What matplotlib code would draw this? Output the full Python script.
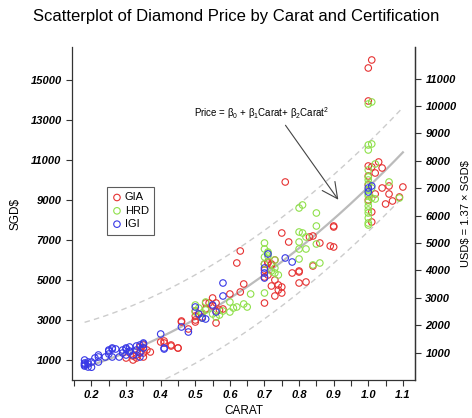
import numpy as np
import matplotlib
matplotlib.use("Agg")
import matplotlib.pyplot as plt
from matplotlib.ticker import MultipleLocator

plt.rcParams['font.family'] = ['Liberation Sans', 'DejaVu Sans']
plt.rcParams['mathtext.fontset'] = 'custom'
plt.rcParams['mathtext.rm'] = 'Liberation Sans'
plt.rcParams['mathtext.it'] = 'Liberation Sans'

# Diamond prices (SGD) by carat, grouped by certification body
gia_carat = [0.30, 0.32, 0.32, 0.33, 0.34, 0.35, 0.35, 0.36, 0.37, 0.34, 0.35, 0.35, 0.33,
             0.40, 0.41, 0.43, 0.45, 0.46, 0.41, 0.43, 0.45,
             0.46, 0.48, 0.50, 0.50, 0.50, 0.51, 0.52, 0.53, 0.53, 0.54, 0.55, 0.55, 0.56,
             0.56, 0.56, 0.57, 0.58, 0.60, 0.62, 0.63, 0.63, 0.64, 0.50,
             0.70, 0.70, 0.71, 0.72, 0.73, 0.73, 0.73, 0.74, 0.75, 0.74, 0.75, 0.70, 0.71,
             0.75, 0.76, 0.77, 0.72, 0.70, 0.71, 0.72,
             0.78, 0.80, 0.80, 0.82, 0.83, 0.84, 0.84, 0.86, 0.89, 0.90, 0.90, 0.80, 0.90,
             1.01, 1.00, 1.00, 1.00, 1.01, 1.03, 1.04, 1.02, 1.00, 1.06, 1.06, 1.07, 1.05,
             1.10, 1.09, 1.04, 1.01, 1.01, 1.00, 1.02, 1.00]
gia_price = [1100, 1200, 1000, 1250, 1400, 1350, 1150, 1500, 1400, 1650, 1750, 1600, 1100,
             1900, 1850, 1750, 1600, 2900, 1950, 1700, 1600,
             2950, 2550, 3000, 3200, 3450, 3300, 3150, 3550, 3850, 3850, 4100, 3700, 3850,
             3450, 2850, 3500, 3550, 4300, 5850, 6450, 4400, 4800, 2900,
             3850, 5150, 5850, 5750, 6000, 5000, 4200, 4750, 4350, 4500, 4650, 5800, 5900,
             7350, 9900, 6900, 4700, 5500, 5250, 5800,
             5350, 5400, 4850, 4900, 7150, 5700, 7200, 6850, 6700, 6650, 7650, 5450, 7700,
             16000, 15600, 13950, 10700, 10650, 10900, 10600, 10350, 10200, 9700, 9300, 8950, 8800,
             9650, 9150, 9600, 8400, 7900, 9000, 9300, 9750]

hrd_carat = [0.50, 0.50, 0.51, 0.52, 0.53, 0.53, 0.55, 0.56, 0.57, 0.58, 0.60, 0.60, 0.61,
             0.62, 0.64, 0.65, 0.66, 0.52,
             0.70, 0.71, 0.70, 0.73, 0.73, 0.70, 0.70, 0.71, 0.72, 0.70, 0.74, 0.71, 0.73,
             0.80, 0.81, 0.85, 0.85, 0.81, 0.80, 0.82, 0.80, 0.82, 0.85, 0.84, 0.86, 0.80, 0.80,
             1.00, 1.01, 1.00, 1.01, 1.00, 1.02, 1.00, 1.00, 1.00, 1.00, 1.00, 1.01, 1.00,
             1.00, 1.00, 1.00, 1.00, 1.06, 1.09, 1.01, 1.00, 1.02, 1.00, 1.00, 1.00]
hrd_price = [3750, 3400, 3600, 3350, 3900, 3500, 3300, 3150, 3250, 3450, 3900, 3400, 3600,
             3650, 3800, 3650, 4300, 3100,
             6850, 6350, 6150, 5600, 5350, 4350, 5800, 6200, 5450, 6550, 5250, 6400, 6000,
             8600, 8750, 8350, 7700, 7350, 6900, 7150, 6550, 6550, 6800, 5750, 5850, 6050, 7400,
             13800, 13900, 11750, 11800, 11500, 10800, 10500, 10000, 9800, 9500, 9300, 9100, 8900,
             8700, 8350, 8100, 7850, 9900, 9100, 9600, 9200, 9050, 8500, 10150, 7750]

igi_carat = [0.18, 0.18, 0.18, 0.19, 0.18, 0.19, 0.18, 0.19, 0.20, 0.20,
             0.21, 0.22, 0.22, 0.24, 0.22, 0.25, 0.26, 0.26, 0.25, 0.26, 0.25, 0.27,
             0.28, 0.29, 0.29, 0.30, 0.31, 0.30, 0.30, 0.31,
             0.31, 0.32, 0.33, 0.33, 0.34, 0.34, 0.35, 0.35, 0.34, 0.35,
             0.40, 0.41, 0.41, 0.46, 0.48, 0.50, 0.51, 0.52, 0.55, 0.56, 0.58, 0.58, 0.53,
             0.70, 0.70, 0.71, 0.76, 0.78, 0.70, 1.01, 1.00, 1.00]
igi_price = [750, 700, 850, 650, 800, 900, 1000, 800, 640, 900,
             1100, 1150, 1250, 1150, 900, 1500, 1550, 1600, 1300, 1150, 1450, 1550,
             1150, 1350, 1500, 1600, 1650, 1250, 1550, 1450,
             1400, 1250, 1500, 1700, 1350, 1750, 1850, 1600, 1150, 1800,
             2300, 1550, 1600, 2650, 2400, 3650, 3300, 3100, 3750, 3400, 4200, 4850, 3050,
             5600, 5350, 6300, 6100, 5900, 5100, 9700, 9400, 9600]

groups = [('GIA', gia_carat, gia_price, '#E63232'),
          ('HRD', hrd_carat, hrd_price, '#8FE04A'),
          ('IGI', igi_carat, igi_price, '#3838E6')]

SGD_PER_USD = 1.37

fig = plt.figure(figsize=(4.72, 4.18), dpi=100)
ax = fig.add_axes([0.1525, 0.0909, 0.7267, 0.7967])

for name, c, p, col in groups:
    ax.scatter(c, p, s=22, facecolors='none', edgecolors=col, linewidths=0.8,
               label=name, zorder=3)

# quadratic fit with 95% prediction band
carat = np.concatenate([g[1] for g in groups])
price = np.concatenate([g[2] for g in groups])
X = np.column_stack([np.ones_like(carat), carat, carat ** 2])
beta, *_ = np.linalg.lstsq(X, price, rcond=None)
resid = price - X @ beta
dof = len(price) - 3
s2 = resid @ resid / dof
XtX_inv = np.linalg.inv(X.T @ X)

cg = np.linspace(carat.min(), carat.max(), 200)
Xg = np.column_stack([np.ones_like(cg), cg, cg ** 2])
fit = Xg @ beta
half = 1.97 * np.sqrt(s2 * (1 + np.einsum('ij,jk,ik->i', Xg, XtX_inv, Xg)))

ax.plot(cg, fit, color='#BBBBBB', lw=1.6, zorder=2)
ax.plot(cg, fit + half, color='#CCCCCC', lw=1.0, ls=(0, (4, 3)), zorder=1)
ax.plot(cg, fit - half, color='#CCCCCC', lw=1.0, ls=(0, (4, 3)), zorder=1)

ax.set_xlim(0.1436, 1.135)
ax.set_ylim(0, 16650)

ax.xaxis.set_minor_locator(MultipleLocator(0.05))
xt = np.arange(0.2, 1.15, 0.1)
ax.set_xticks(xt)
ax.set_xticklabels([f'{v:.1f}' for v in xt])
ax.set_yticks(np.arange(1000, 16000, 2000))
ax.tick_params(which='both', direction='out', length=4.5, width=0.8, color='#333333',
               pad=3)
for lab in ax.get_xticklabels() + ax.get_yticklabels():
    lab.set_fontweight('bold')
    lab.set_fontstyle('italic')
    lab.set_fontsize(8)

ax.spines['top'].set_visible(False)
for sp in ('left', 'right', 'bottom'):
    ax.spines[sp].set_linewidth(0.9)
    ax.spines[sp].set_color('#333333')

sec = ax.secondary_yaxis('right', functions=(lambda s: s / SGD_PER_USD,
                                              lambda u: u * SGD_PER_USD))
sec.set_yticks(np.arange(1000, 12000, 1000))
sec.tick_params(direction='out', length=4.5, width=0.8, color='#333333', pad=3)
for lab in sec.get_yticklabels():
    lab.set_fontweight('bold')
    lab.set_fontstyle('italic')
    lab.set_fontsize(8)
sec.spines['right'].set_linewidth(0.9)
sec.spines['right'].set_color('#333333')
sec.set_ylabel(r'USD\$ = 1.37 × SGD\$', fontsize=8, labelpad=3)

ax.set_xlabel('CARAT', fontsize=8.5, labelpad=3)
ax.set_ylabel(r'SGD\$', fontsize=8.5, labelpad=6)
fig.suptitle('Scatterplot of Diamond Price by Carat and Certification',
             fontsize=12, y=0.978)

ax.text(0.693, 13350, r'Price = $\beta_0$ + $\beta_1$Carat+ $\beta_2$Carat$^2$',
        fontsize=7, ha='center', va='center')
ax.annotate('', xy=(0.918, 8900), xytext=(0.756, 12850),
            arrowprops=dict(arrowstyle='->, head_width=0.35, head_length=0.7',
                            color='#444444', lw=0.8, mutation_scale=16))

leg = ax.legend(loc='upper left', bbox_to_anchor=(0.102, 0.58), borderaxespad=0,
                fontsize=8, frameon=True, fancybox=False, handletextpad=0.3,
                borderpad=0.5, labelspacing=0.3, handlelength=0.8)
leg.get_frame().set_edgecolor('#333333')
leg.get_frame().set_linewidth(0.8)

fig.savefig('out.png', dpi=100)
